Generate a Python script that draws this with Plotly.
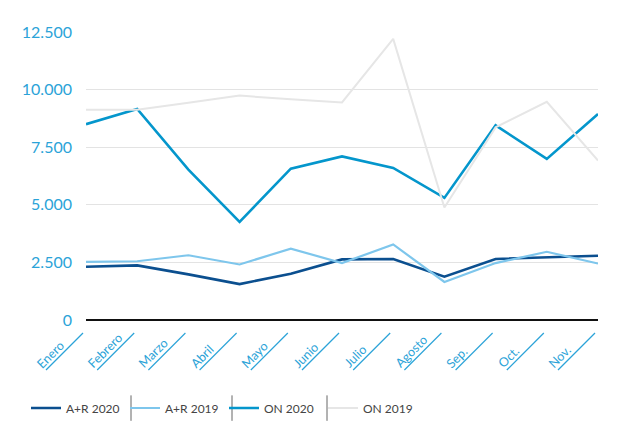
import plotly.graph_objects as go

months = ["Enero", "Febrero", "Marzo", "Abril", "Mayo", "Junio", "Julio",
          "Agosto", "Sep.", "Oct.", "Nov."]
ar_2020 = [2310, 2370, 1980, 1560, 2010, 2630, 2650, 1880, 2650, 2720, 2790]
ar_2019 = [2520, 2550, 2810, 2410, 3100, 2470, 3280, 1650, 2470, 2960, 2450]
on_2020 = [8500, 9160, 6530, 4260, 6570, 7100, 6600, 5300, 8450, 6990, 8940]
on_2019 = [9130, 9130, 9430, 9740, 9580, 9440, 12200, 4880, 8360, 9470, 6920]
y_ticks = [0, 2500, 5000, 7500, 10000, 12500]

series = [
    ("A+R 2020", ar_2020, "#0b4f8f", 2.6),
    ("A+R 2019", ar_2019, "#7ec6ec", 2.2),
    ("ON 2020", on_2020, "#0496cc", 2.6),
    ("ON 2019", on_2019, "#e6e6e6", 2.0),
]

fig = go.Figure()
for name, vals, color, w in series:
    fig.add_trace(go.Scatter(x=months, y=vals, name=name, mode="lines",
                             line=dict(color=color, width=w)))

tick_color = "#2ba3d8"
font_family = "Lato, 'Open Sans', sans-serif"
n = len(months)

# rotated, left-anchored category labels with diagonal underline strokes
for i, m in enumerate(months):
    fig.add_annotation(x=m, y=0, xref="x", yref="y", text=m, textangle=-45,
                       showarrow=False, xanchor="left", yanchor="bottom",
                       xshift=-55, yshift=-53.5,
                       font=dict(family=font_family, size=12.5, color=tick_color))
    fig.add_shape(type="line", xref="paper", yref="paper", xsizemode="pixel",
                  ysizemode="pixel", xanchor=i / (n - 1), yanchor=0,
                  x0=-40, x1=-3, y0=-50, y1=-13,
                  line=dict(color=tick_color, width=1.2))

fig.update_layout(
    width=627, height=426,
    margin=dict(l=86, r=29, t=32, b=105.5),
    paper_bgcolor="white", plot_bgcolor="white",
    separators=",.",
    font=dict(family=font_family),
    showlegend=True,
    legend=dict(orientation="h", xref="container", yref="container",
                x=26 / 627, xanchor="left", y=1 - 408 / 426,
                yanchor="middle", entrywidth=54,
                font=dict(family=font_family, size=12, color="#444444"),
                bgcolor="rgba(0,0,0,0)"),
    xaxis=dict(showgrid=False, showticklabels=False, ticks="",
               showline=False, zeroline=False, range=[0, n - 1]),
    yaxis=dict(range=[0, 12500], tickvals=y_ticks, tickformat=",d",
               showgrid=True, gridcolor="#e3e3e3", gridwidth=1,
               zeroline=True, zerolinecolor="#111111", zerolinewidth=1.6,
               ticks="", ticklabelstandoff=13,
               tickfont=dict(family=font_family, size=16, color=tick_color)),
)

# vertical separators between legend entries
for xp in [131, 232, 327]:
    fig.add_shape(type="line", xref="paper", yref="paper",
                  x0=(xp - 86) / 512, x1=(xp - 86) / 512,
                  y0=(320.5 - 396) / 288.5, y1=(320.5 - 421.5) / 288.5,
                  line=dict(color="#666666", width=1))

fig.write_html("out.html")
